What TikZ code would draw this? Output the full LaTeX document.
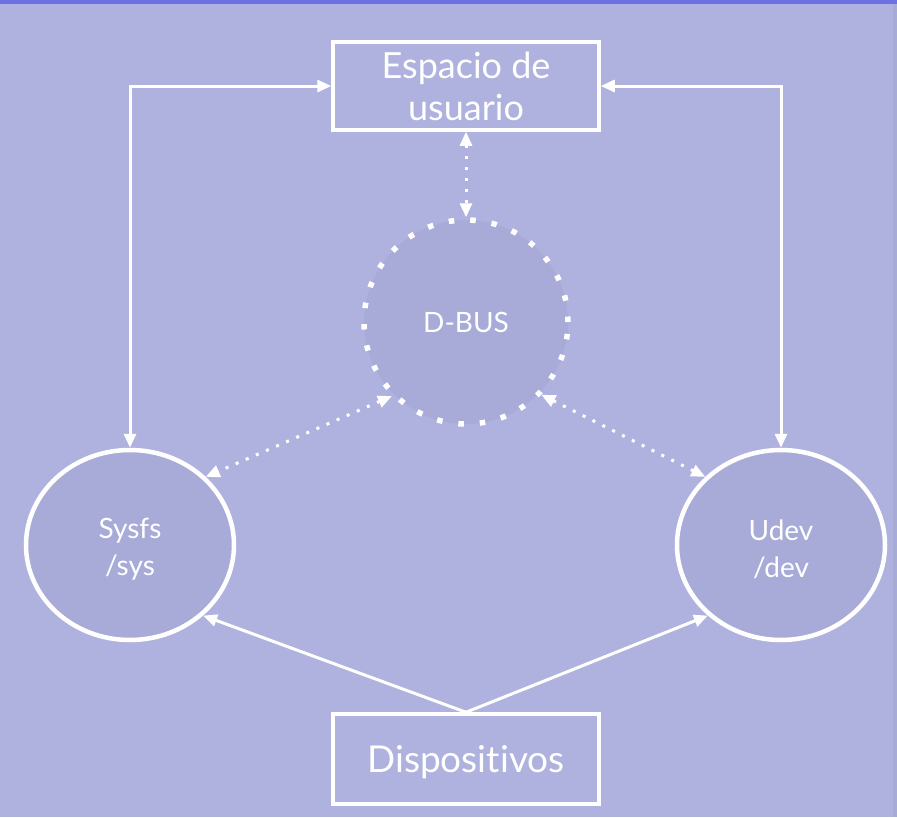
\documentclass[tikz,border=0pt]{standalone}
\usepackage{fontspec}
\setmainfont[Ligatures={NoCommon,NoRare,NoDiscretionary}]{Lato}
\usetikzlibrary{shapes.geometric,arrows.meta}
\definecolor{bg}{RGB}{175,178,222}
\definecolor{topbar}{RGB}{106,114,227}
\definecolor{nodefill}{RGB}{168,171,216}
\definecolor{edge}{RGB}{168,171,214}
\tikzset{
  boxnode/.style={draw=white, line width=3.5pt, fill=bg, minimum width=266pt, minimum height=88pt, inner sep=0pt, text=white, align=center},
  ellnode/.style={ellipse, draw=white, line width=4.5pt, fill=nodefill, minimum width=208pt, minimum height=190pt, inner sep=0pt, text=white, align=center, font=\fontsize{28}{37}\selectfont},
  busnode/.style={circle, draw=white, line width=5.5pt, fill=nodefill, minimum size=204pt, inner sep=0pt, text=white, font=\fontsize{28}{34}\selectfont, dash pattern=on 5.5pt off 16pt},
  solidlink/.style={draw=white, line width=3pt, arrows={-Triangle[length=14pt,width=12pt]}},
  dotlink/.style={draw=white, line width=3pt, dash pattern=on 3pt off 8pt, arrows={Triangle[length=14pt,width=12pt]-Triangle[length=14pt,width=12pt]}}
}
\begin{document}
\begin{tikzpicture}[x=1pt,y=-1pt]
\fill[bg] (0,0) rectangle (897,817);
\useasboundingbox (0,0) rectangle (897,817);
\fill[topbar] (0,0) rectangle (897,4);
\fill[edge] (893,4) rectangle (897,817);
\node[boxnode, font=\fontsize{36}{42}\selectfont] (esp) at (466,86) {Espacio de\\usuario};
\node[busnode] (dbus) at (466,322) {D-BUS};
\node[ellnode] (sys) at (130,545) {};
\node[ellnode] (udev) at (781,545) {};
\node[text=white, align=center, font=\fontsize{28}{37}\selectfont] (systext) at (130,549) {Sysfs\\/sys};
\node[text=white, align=center, font=\fontsize{28}{37}\selectfont] (udevtext) at (781,549) {Udev\\/dev};
\node[boxnode, minimum height=90pt, font=\fontsize{37}{40}\selectfont] (disp) at (466,759) {};
\node[text=white, font=\fontsize{37}{40}\selectfont] (disptext) at (466,762) {Dispositivos};
\draw[solidlink, arrows={Triangle[length=14pt,width=12pt]-Triangle[length=14pt,width=12pt]}] (sys.north) |- (esp.west);
\draw[solidlink, arrows={Triangle[length=14pt,width=12pt]-Triangle[length=14pt,width=12pt]}] (udev.north) |- (esp.east);
\draw[dotlink] (esp.south) -- (dbus.north);
\draw[dotlink] (dbus.225) -- (sys.42);
\draw[dotlink] (dbus.-44) -- (udev.138);
\draw[solidlink] (disp.north) -- (sys.-44);
\draw[solidlink] (disp.north) -- (udev.224);
\end{tikzpicture}
\end{document}
